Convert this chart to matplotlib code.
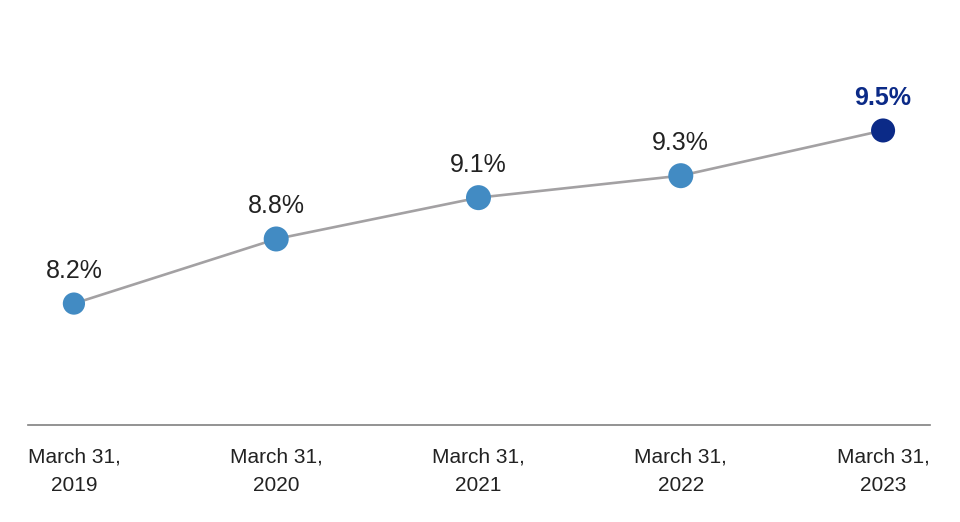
#line chart: ratio at each March 31, last point highlighted
import matplotlib.pyplot as plt

#data
dates = ['March 31,\n2019', 'March 31,\n2020', 'March 31,\n2021', 'March 31,\n2022', 'March 31,\n2023']
labels = ['8.2%', '8.8%', '9.1%', '9.3%', '9.5%']
values = [8.25, 8.75, 9.07, 9.24, 9.59]  # drawn heights
dot_sizes = [256, 324, 324, 324, 300]

light_blue = '#428bc3'
navy = '#0b2a87'
line_grey = '#a3a1a3'

plt.rcParams['font.family'] = ['Liberation Sans', 'DejaVu Sans']

fig = plt.figure(figsize=(9.6, 5.22), dpi=100)
ax = fig.add_axes([28/960, 97/522, 902/960, 425/522])

x = list(range(len(values)))
ax.plot(x, values, color=line_grey, linewidth=1.9, zorder=1)

colors = [light_blue]*(len(values)-1) + [navy]
ax.scatter(x, values, s=dot_sizes, c=colors, edgecolors='none', zorder=2)

#value labels above the dots
for i in x:
    last = (i == len(values)-1)
    ax.annotate(labels[i], (i, values[i]), xytext=(0, 15), textcoords='offset points',
                ha='center', va='bottom', fontsize=18,
                color=navy if last else '#222222',
                fontweight='bold' if last else 'normal')

ax.set_xlim(-0.227, 4.232)
ax.set_ylim(7.31, 10.6)
ax.set_xticks(x)
ax.set_xticklabels(dates, fontsize=15, color='#222222', linespacing=1.62)
ax.tick_params(axis='x', length=0, pad=16)
ax.set_yticks([])
for side in ['top', 'right', 'left']:
    ax.spines[side].set_visible(False)
ax.spines['bottom'].set_color('#808080')
ax.spines['bottom'].set_linewidth(1.2)

plt.savefig('out.png', dpi=100)
